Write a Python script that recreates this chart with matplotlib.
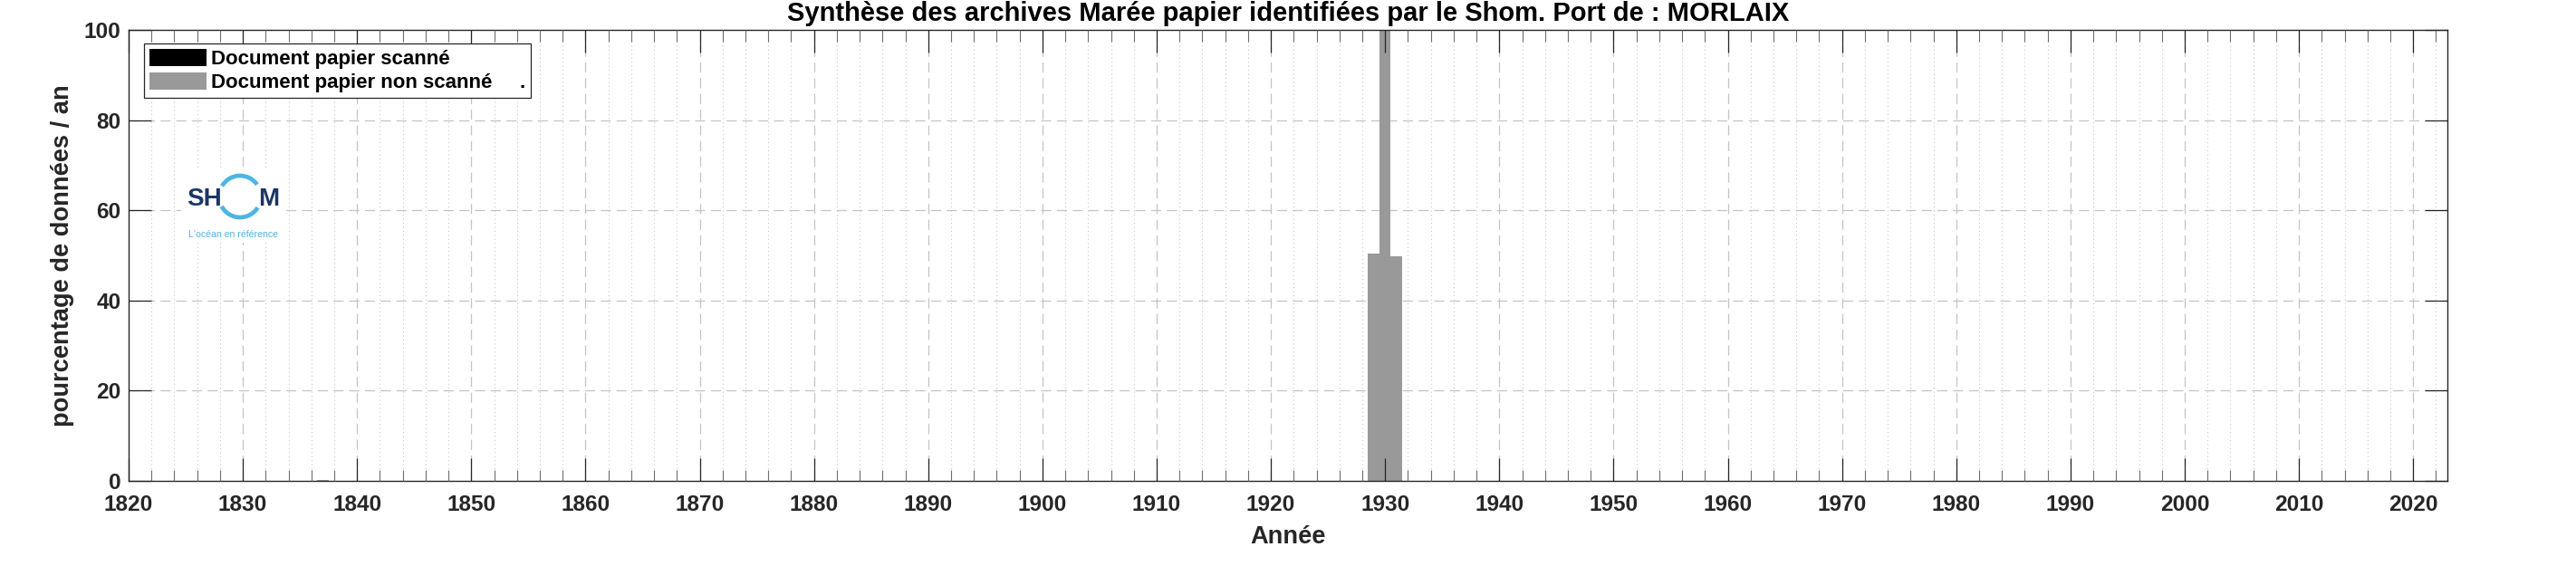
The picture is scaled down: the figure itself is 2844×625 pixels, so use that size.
import matplotlib
matplotlib.use("Agg")
import matplotlib.pyplot as plt
from matplotlib.patches import Patch, Arc
import numpy as np

plt.rcParams["font.family"] = ["Liberation Sans", "DejaVu Sans"]
plt.rcParams["font.weight"] = "bold"
plt.rcParams["axes.titleweight"] = "bold"
plt.rcParams["axes.labelweight"] = "bold"
plt.rcParams["lines.scale_dashes"] = False

# données
annees_scanne = []
pct_scanne = []
annees_non_scanne = [1837, 1929, 1930, 1931]
pct_non_scanne = [0.3, 50.5, 100, 49.8]

xticks_major = np.arange(1820, 2021, 10)
xticks_minor = np.arange(1822, 2023, 2)
yticks = [0, 20, 40, 60, 80, 100]

titre = "Synthèse des archives Marée papier identifiées par le Shom. Port de : MORLAIX"
labels_legende = ["Document papier scanné", "Document papier non scanné     ."]

W, H = 2844, 625
fig = plt.figure(figsize=(W / 100, H / 100), dpi=100)
ax = fig.add_axes([142 / W, 1 - 531 / H, (2702 - 142) / W, (531 - 33) / H])

gris = "#999999"
fonce = "#262626"

ax.bar(annees_scanne, pct_scanne, width=1.0, color="black", linewidth=0, zorder=1)
ax.bar(annees_non_scanne, pct_non_scanne, width=1.0, color=gris, linewidth=0, zorder=1)

ax.set_xlim(1820, 2023)
ax.set_ylim(0, 100)
ax.set_xticks(xticks_major)
ax.set_xticks([x for x in xticks_minor if x % 10 != 0], minor=True)
ax.set_yticks(yticks)

# grille (sous les barres)
for y in yticks[1:-1]:
    ax.axhline(y, color="#c4c4c4", lw=0.9, dashes=(8, 4.5), zorder=0.5)
for x in xticks_major[1:]:
    ax.axvline(x, color="#c4c4c4", lw=0.9, dashes=(8, 4.5), zorder=0.5)
for x in xticks_minor:
    if x % 10 != 0:
        ax.axvline(x, color="#c8c8c8", lw=0.8, dashes=(0.8, 2.4), zorder=0.5)

ax.set_axisbelow(False)
ax.tick_params(axis="both", which="major", direction="in", length=18, width=0.9,
               color=fonce, labelsize=17.6, labelcolor=fonce,
               top=True, right=True)
ax.tick_params(axis="x", which="major", pad=11)
ax.tick_params(axis="y", which="major", pad=6)
ax.tick_params(axis="x", which="minor", direction="in", length=9, width=0.8,
               color="#6e6e6e", top=True)
for s in ax.spines.values():
    s.set_color(fonce)
    s.set_linewidth(1.0)

ax.set_xlabel("Année", fontsize=19.6, color=fonce, fontweight="bold", labelpad=8)
ax.set_ylabel("pourcentage de données / an", fontsize=19.6, color=fonce,
              fontweight="bold", labelpad=8)
ax.set_title(titre, fontsize=21, color="black", fontweight="bold", pad=7)

handles = [Patch(facecolor="black", edgecolor="none"),
           Patch(facecolor=gris, edgecolor="none")]
leg = ax.legend(handles, labels_legende, loc="upper left",
                bbox_to_anchor=((159 - 142) / 2560, (531 - 48) / 498),
                borderaxespad=0, fontsize=16, handlelength=2.84, handleheight=0.95,
                handletextpad=0.23, borderpad=0.25, labelspacing=0.2,
                fancybox=False, framealpha=1, edgecolor=fonce)
leg.get_frame().set_linewidth(0.9)
for t in leg.get_texts():
    t.set_fontweight("bold")

# logo Shom
lx0, ly0, lw_, lh_ = 200, 186, 112, 82
lax = fig.add_axes([lx0 / W, 1 - (ly0 + lh_) / H, lw_ / W, lh_ / H])
lax.set_xlim(0, lw_)
lax.set_ylim(0, lh_)
lax.set_facecolor("white")
lax.set_xticks([])
lax.set_yticks([])
for s in lax.spines.values():
    s.set_visible(False)
marine = "#1c3664"
bleu = "#4db5e2"
lax.text(6, 41, "SH", fontsize=20, color=marine, fontweight="bold", va="baseline", ha="left")
lax.text(108, 41, "M", fontsize=20, color=marine, fontweight="bold", va="baseline", ha="right")
lax.add_patch(Arc((65, 51), 46, 46, theta1=35, theta2=150, color=bleu, lw=3.4))
lax.add_patch(Arc((65, 51), 46, 46, theta1=208, theta2=328, color=bleu, lw=3.4))
lax.text(57, 9, "L'océan en référence", fontsize=7.6, color=bleu, fontweight="normal",
         ha="center", va="center")

fig.savefig("out.png", dpi=100)
